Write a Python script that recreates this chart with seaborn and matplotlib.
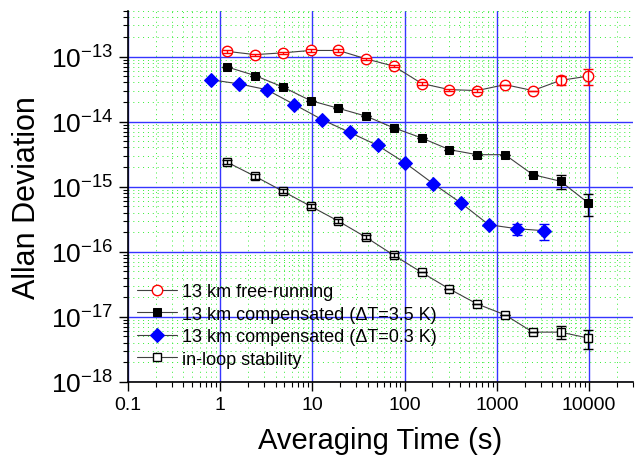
import numpy as np, pandas as pd, matplotlib
matplotlib.use("Agg")
import matplotlib.pyplot as plt
import seaborn as sns
from matplotlib.ticker import LogLocator, NullFormatter

# averaging times (s)
tau_a = [1.2, 2.4, 4.8, 9.6, 19.2, 38.4, 76.8, 153.6, 307, 614, 1229, 2458, 4915, 9830]
tau_b = [0.8, 1.6, 3.2, 6.4, 12.8, 25.6, 51.2, 102.4, 204.8, 409.6, 819.2, 1638.4, 3276.8]

free_run = [1.2e-13, 1.07e-13, 1.14e-13, 1.24e-13, 1.24e-13, 9.2e-14, 7.1e-14,
            3.85e-14, 3.1e-14, 3.0e-14, 3.7e-14, 3.0e-14, 4.3e-14, 5.0e-14]
free_err = [0.05e-13, 0.04e-13, 0.05e-13, 0.05e-13, 0.05e-13, 0.04e-13, 0.03e-13,
            0.15e-14, 0.12e-14, 0.12e-14, 0.0, 0.0, 0.7e-14, 1.4e-14]

comp35 = [6.9e-14, 5.1e-14, 3.4e-14, 2.1e-14, 1.6e-14, 1.21e-14, 8.0e-15,
          5.6e-15, 3.7e-15, 3.1e-15, 3.1e-15, 1.53e-15, 1.21e-15, 5.6e-16]
comp35_err = [0, 0, 0, 0, 0, 0, 0, 0, 0, 0, 0, 0, 0.3e-15, 0.2e-15]

comp03 = [4.4e-14, 3.8e-14, 3.1e-14, 1.83e-14, 1.07e-14, 6.8e-15, 4.3e-15,
          2.3e-15, 1.11e-15, 5.6e-16, 2.6e-16, 2.26e-16, 2.1e-16]
comp03_err = [0, 0, 0, 0, 0, 0, 0, 0, 0, 0, 0, 0.45e-16, 0.6e-16]

inloop = [2.37e-15, 1.44e-15, 8.5e-16, 5.0e-16, 2.95e-16, 1.66e-16, 8.8e-17,
          4.8e-17, 2.67e-17, 1.57e-17, 1.07e-17, 5.8e-18, 5.8e-18, 4.7e-18]
inloop_err = [0.18e-15, 0.11e-15, 0.65e-16, 0.38e-16, 0.22e-16, 0.12e-16, 0.65e-17,
              0, 0, 0, 0, 0, 1.3e-18, 1.5e-18]

labels = ["13 km free-running",
          "13 km compensated (\u0394T=3.5 K)",
          "13 km compensated (\u0394T=0.3 K)",
          "in-loop stability"]

x_ticks = [0.1, 1, 10, 100, 1000, 10000]
x_ticklabels = ["0.1", "1", "10", "100", "1000", "10000"]
y_ticks = [1e-18, 1e-17, 1e-16, 1e-15, 1e-14, 1e-13]

sns.set_style("white")
plt.rcParams["font.family"] = ["Liberation Sans", "DejaVu Sans"]
plt.rcParams["mathtext.fontset"] = "custom"
plt.rcParams["mathtext.rm"] = "Liberation Sans"
plt.rcParams["text.color"] = "black"
plt.rcParams["axes.labelcolor"] = "black"
plt.rcParams["xtick.color"] = "black"
plt.rcParams["ytick.color"] = "black"

fig = plt.figure(figsize=(6.42, 4.64), dpi=100)
ax = fig.add_axes([0.199, 0.175, 0.787, 0.799])

line_c = "#404040"
series = [
    (tau_a, free_run, free_err, dict(marker="o", markersize=7.5, markerfacecolor="white",
                                     markeredgecolor="#ff0000", markeredgewidth=1.0), "#ff0000"),
    (tau_a, comp35, comp35_err, dict(marker="s", markersize=6, markerfacecolor="black",
                                     markeredgecolor="black"), "black"),
    (tau_b, comp03, comp03_err, dict(marker="D", markersize=7, markerfacecolor="#0000ff",
                                     markeredgecolor="#0000ff"), "#0000ff"),
    (tau_a, inloop, inloop_err, dict(marker="s", markersize=6, markerfacecolor="white",
                                     markeredgecolor="black", markeredgewidth=1.0), "black"),
]

for (x, y, e, mk, ec), lab in zip(series, labels):
    df = pd.DataFrame({"tau": x, "adev": y})
    sns.lineplot(data=df, x="tau", y="adev", ax=ax, color=line_c, lw=0.8,
                 label=lab, zorder=3, **mk)
    ax.errorbar(x, y, yerr=e, fmt="none", ecolor=ec, elinewidth=1.0,
                capsize=3.5, capthick=1.0, zorder=4)

ax.set_xscale("log")
ax.set_yscale("log")
ax.set_xlim(0.1, 3e4)
ax.set_ylim(1e-18, 5e-13)

ax.set_xticks(x_ticks)
ax.set_xticklabels(x_ticklabels)
ax.xaxis.set_minor_locator(LogLocator(base=10, subs=np.arange(2, 10), numticks=20))
ax.xaxis.set_minor_formatter(NullFormatter())
ax.set_yticks(y_ticks)
ax.yaxis.set_minor_locator(LogLocator(base=10, subs=np.arange(2, 10), numticks=20))
ax.yaxis.set_minor_formatter(NullFormatter())

ax.grid(which="major", color="#3535ff", lw=1.0, ls="-", zorder=1)
ax.grid(which="minor", color="#33ee33", lw=0.7, ls=(0, (1, 4)), zorder=0)
ax.set_axisbelow(True)

for s in ["top", "right"]:
    ax.spines[s].set_visible(False)
for s in ["left", "bottom"]:
    ax.spines[s].set_color("black")
    ax.spines[s].set_linewidth(1.2)

ax.tick_params(axis="both", which="major", direction="out", length=6.5, width=1.0,
               color="black", left=True, bottom=True)
ax.tick_params(axis="both", which="minor", direction="out", length=3.5, width=0.8,
               color="black", left=True, bottom=True)
ax.tick_params(axis="x", which="major", labelsize=14, pad=4, labelcolor="black")
ax.tick_params(axis="y", which="major", labelsize=19, pad=4, labelcolor="black")

ax.set_xlabel("Averaging Time (s)", fontsize=21, labelpad=9, color="black")
ax.set_ylabel("Allan Deviation", fontsize=22, labelpad=6, color="black")

leg = ax.legend(loc="upper left", bbox_to_anchor=(0.0, 0.29), frameon=False, fontsize=13,
                handlelength=2.2, handletextpad=0.3, labelspacing=0.3, borderpad=0.2,
                borderaxespad=0.3)
for t in leg.get_texts():
    t.set_color("black")

fig.savefig("out.png", dpi=100)
